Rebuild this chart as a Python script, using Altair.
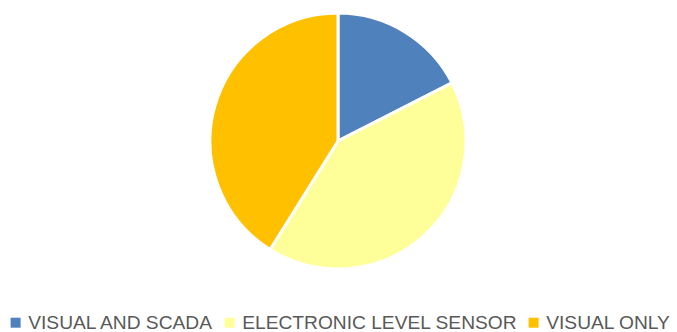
import altair as alt
import pandas as pd

categories = ["VISUAL AND SCADA", "ELECTRONIC LEVEL SENSOR", "VISUAL ONLY"]
values = [17.5, 41.4, 41.1]
colors = ["#4F81BD", "#FFFF99", "#FFC000"]

df = pd.DataFrame({"category": categories, "value": values, "order": list(range(len(categories)))})

chart = alt.Chart(df).mark_arc(
    outerRadius=128, stroke="white", strokeWidth=3
).encode(
    theta=alt.Theta("value:Q", stack=True),
    order=alt.Order("order:Q"),
    x=alt.value(338),
    y=alt.value(141),
    color=alt.Color(
        "category:N",
        scale=alt.Scale(domain=categories, range=colors),
        sort=categories,
        legend=alt.Legend(
            title=None,
            orient="none",
            direction="horizontal",
            legendX=6,
            legendY=313,
            symbolType="square",
            symbolSize=100,
            symbolStrokeWidth=0,
            labelFont="Liberation Sans",
            labelFontSize=19.2,
            labelColor="#595959",
            labelOffset=3,
            columnPadding=6,
            padding=0,
            labelLimit=400,
        ),
    ),
).properties(
    width=677, height=332, padding=0, autosize=alt.AutoSizeParams(type="none")
).configure_view(stroke=None)

chart.save("out.html", embed_options={"renderer": "svg", "actions": False})
